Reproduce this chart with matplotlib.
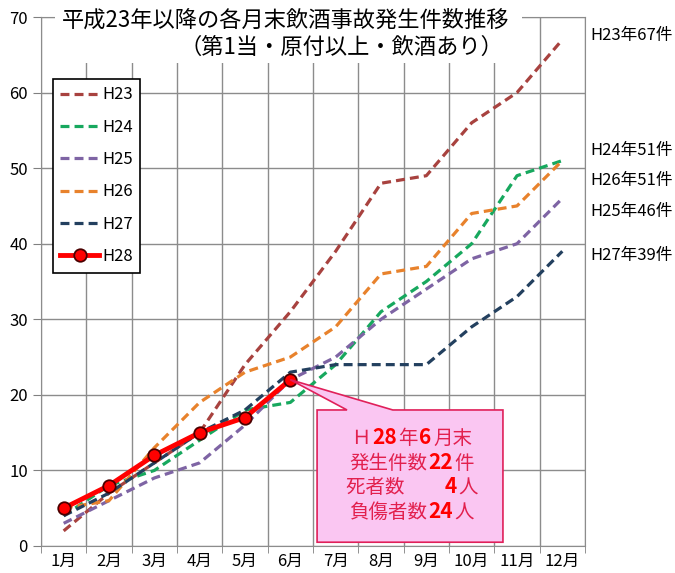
import matplotlib
matplotlib.use("Agg")
import matplotlib.pyplot as plt
import matplotlib.transforms as mtransforms
from matplotlib.patches import Polygon, Rectangle
from matplotlib.offsetbox import TextArea, HPacker, VPacker, AnnotationBbox

plt.rcParams['font.family'] = ['Noto Sans CJK JP', 'DejaVu Sans']

months = ['1月', '2月', '3月', '4月', '5月', '6月', '7月', '8月', '9月', '10月', '11月', '12月']
h23 = [2, 7, 11, 15, 24, 31, 39, 48, 49, 56, 60, 67]
h24 = [4, 8, 10, 14, 18, 19, 24, 31, 35, 40, 49, 51]
h25 = [3, 6, 9, 11, 16, 22, 25, 30, 34, 38, 40, 46]
h26 = [5, 6, 13, 19, 23, 25, 29, 36, 37, 44, 45, 51]
h27 = [4, 7, 11, 15, 18, 23, 24, 24, 24, 29, 33, 39]
h28 = [5, 8, 12, 15, 17, 22]
series_names = ['H23', 'H24', 'H25', 'H26', 'H27', 'H28']
end_labels = ['H23年67件', 'H24年51件', 'H26年51件', 'H25年46件', 'H27年39件']
end_label_y = [67.5, 52.3, 48.3, 44.2, 38.5]
title1 = '平成23年以降の各月末飲酒事故発生件数推移'
title2 = '（第1当・原付以上・飲酒あり）'

colors = {'H23': '#A8423F', 'H24': '#17A85E', 'H25': '#7E64A4',
          'H26': '#E8822C', 'H27': '#23405F', 'H28': '#FF0000'}

fig = plt.figure(figsize=(6.75, 5.73), dpi=100)
ax = fig.add_axes([41/675, 27/573, 544/675, 529/573])

x = list(range(len(months)))
dash = (2.8, 1.6)
for name, vals in zip(series_names[:5], [h23, h24, h25, h26, h27]):
    ax.plot(x[:len(vals)], vals, color=colors[name], lw=2.3, dashes=dash,
            label=name, zorder=3)
ax.plot(x[:len(h28)], h28, color=colors['H28'], lw=3.5, marker='o', ms=9,
        mfc='#FF0000', mec='#4A0000', mew=1.3, label='H28', zorder=5)

ax.set_xlim(-0.5, 11.5)
ax.set_ylim(0, 70)
ax.set_yticks(range(0, 71, 10))
ax.set_xticks(x)
ax.set_xticklabels(months, fontsize=12)
ax.set_xticks([i + 0.5 for i in range(-1, 12)], minor=True)
ax.tick_params(axis='x', which='major', length=0, pad=5)
ax.tick_params(axis='x', which='minor', length=5, color='#808080')
ax.tick_params(axis='y', length=6, color='#808080', labelsize=12)
ax.grid(axis='y', which='major', color='#8C8C8C', lw=1)
ax.grid(axis='x', which='minor', color='#8C8C8C', lw=1)
for s in ax.spines.values():
    s.set_color('#8C8C8C')
ax.set_axisbelow(True)

# title box (white background hiding grid lines)
ax.add_patch(Rectangle((55/675, 1 - 63/573), 467/675, 58/573, transform=fig.transFigure,
                       facecolor='white', edgecolor='none', zorder=6, clip_on=False))
fig.text(62/675, 1 - 20/573, title1, fontsize=16, va='center', ha='left', zorder=7)
fig.text(503/675, 1 - 47/573, title2, fontsize=16, va='center', ha='right', zorder=7)

# end labels
trans = mtransforms.blended_transform_factory(fig.transFigure, ax.transData)
for lab, yv in zip(end_labels, end_label_y):
    ax.text(590/675, yv, lab, transform=trans, fontsize=12, va='center', ha='left')

# legend
leg = ax.legend(loc='upper left', bbox_to_anchor=(0.022, 0.883), fontsize=12,
                frameon=True, fancybox=False, edgecolor='black', framealpha=1,
                handlelength=2.3, handletextpad=0.2, labelspacing=0.92,
                borderpad=0.45, borderaxespad=0)
leg.get_frame().set_linewidth(1.2)
leg.set_zorder(8)

# callout
bx0, bx1, by0, by1 = 5.59, 9.69, 0.5, 18.0
w0, w1 = 6.25, 7.26
tip = (5, h28[5])
poly = Polygon([(bx0, by0), (bx0, by1), (w0, by1), tip, (w1, by1), (bx1, by1), (bx1, by0)],
               closed=True, facecolor='#FAC6F2', edgecolor='#E0205A', lw=1.2, zorder=6)
ax.add_patch(poly)

tc = '#E2204E'
bc = '#FF0000'
def seg(t, bold=False):
    return TextArea(t, textprops=dict(color=bc if bold else tc, fontsize=15 if bold else 14,
                                      fontweight='bold' if bold else 'normal'))
lines = [
    [seg('Ｈ'), seg('28', True), seg('年'), seg('6', True), seg('月末')],
    [seg('発生件数'), seg('22', True), seg('件')],
    [seg('死者数　　'), seg('4', True), seg('人')],
    [seg('負傷者数'), seg('24', True), seg('人')],
]
rows = [HPacker(children=l, align='baseline', pad=0, sep=1) for l in lines]
box = VPacker(children=rows, align='center', pad=0, sep=2)
ab = AnnotationBbox(box, (7.68, 9.4), xycoords='data', frameon=False, zorder=7)
ax.add_artist(ab)

fig.savefig('out.png', dpi=100, facecolor='white')
